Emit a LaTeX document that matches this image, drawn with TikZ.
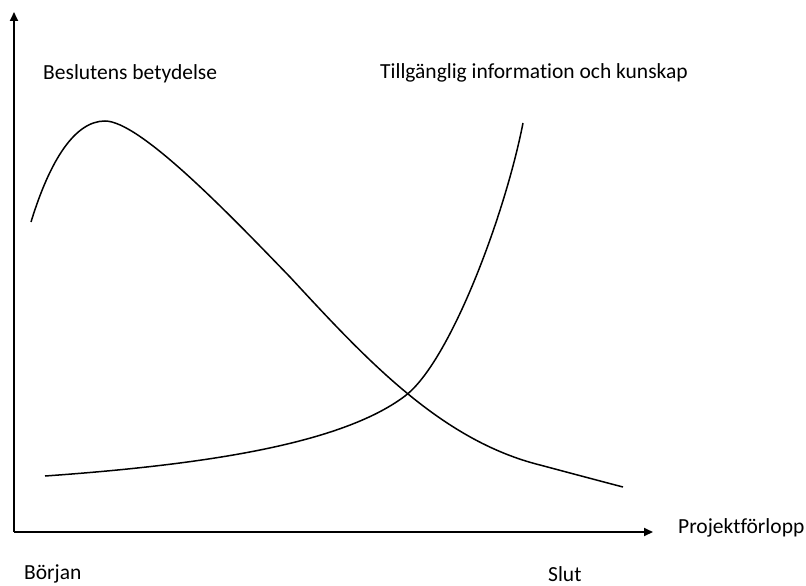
\documentclass[tikz,border=0pt]{standalone}
\usepackage{fontspec}
\setmainfont[Ligatures=NoCommon]{Carlito}
\usepackage{tikz}
\usetikzlibrary{positioning,arrows.meta}

\begin{document}
\begin{tikzpicture}[
      x=1pt, y=-1pt,
      every node/.style={
        inner sep=0pt,
        anchor=west,
        font=\fontsize{21.5}{25}\selectfont
      },
      axis/.style={line width=2pt},
      curve/.style={line width=1.5pt},
      >={Triangle[length=9pt,width=8pt]} % arrow tip
    ]
    \useasboundingbox (0,0) rectangle (806,586);

    % Axes
    \coordinate (origin) at (14,532);
    \coordinate (ytip) at (14,12);
    \coordinate (xtip) at (653,532);
    \draw[axis,->] (origin) -- (ytip);
    \draw[axis,->] (origin) -- (xtip);

    % Labels
    \node (beslut) at (43,74) {Beslutens betydelse};
    \node (info) at (380,73) {Tillgänglig information och kunskap};
    \node (xlabel) at (678,528) {Projektförlopp};
    \node (start) at (24,574) {Början};
    \node (slut) at (548,574) {Slut};

    % Curves
    \draw[curve] (31,222) .. controls (50,160) and (75,121) .. (105,121)
      .. controls (140,121) and (230,215) .. (290,277)
      .. controls (365,358) and (440,440) .. (540,465)
      .. controls (570,473) and (600,481) .. (623,487);
    \draw[curve] (45,476) .. controls (200,465) and (340,445) .. (405,396)
      .. controls (450,362) and (505,215) .. (523,123);
  \end{tikzpicture}
\end{document}
